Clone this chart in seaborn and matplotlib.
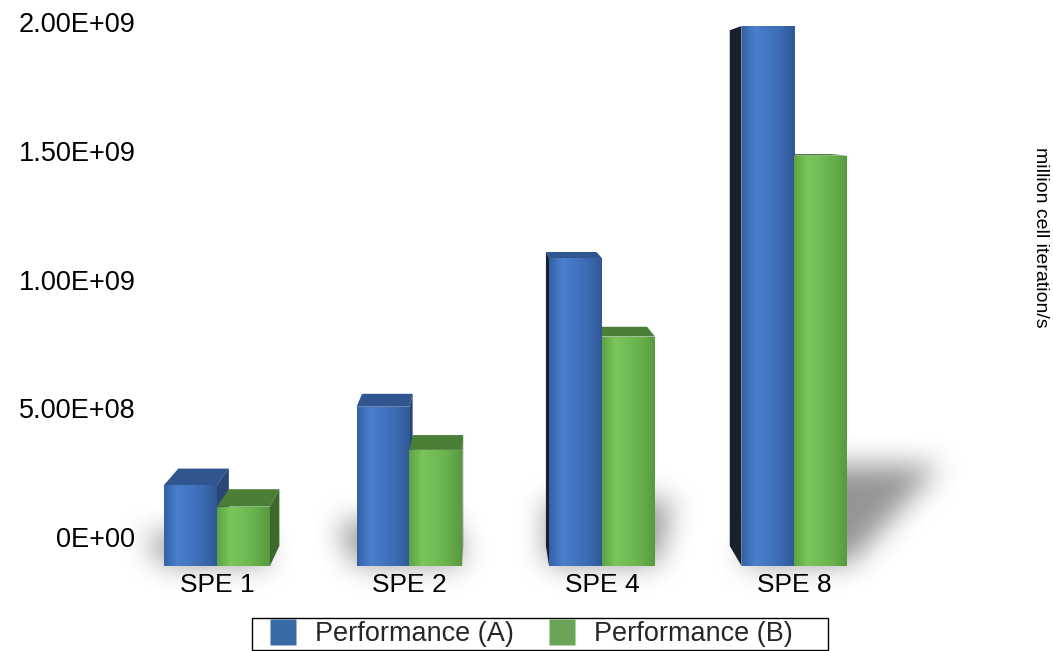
import numpy as np
import pandas as pd
import matplotlib
matplotlib.use("Agg")
import matplotlib.pyplot as plt
import seaborn as sns
from matplotlib.patches import Polygon, Rectangle
from matplotlib.lines import Line2D
from matplotlib.path import Path
from matplotlib.colors import LinearSegmentedColormap, to_rgba

# ---- data -------------------------------------------------------------
categories = ["SPE 1", "SPE 2", "SPE 4", "SPE 8"]
perf_a = [0.30e9, 0.59e9, 1.14e9, 2.00e9]
perf_b = [0.22e9, 0.43e9, 0.85e9, 1.52e9]
series = ["Performance (A)", "Performance (B)"]
ytick_values = [0, 5e8, 1e9, 1.5e9, 2e9]
ytick_labels = ["0E+00", "5.00E+08", "1.00E+09", "1.50E+09", "2.00E+09"]
axis_label = "million cell iteration/s"

# ---- style ------------------------------------------------------------
W, H = 1053, 651
sns.set_theme(style="white")
plt.rcParams["font.family"] = ["Liberation Sans", "DejaVu Sans"]

base_colors = ["#4273BE", "#6EB752"]
legend_colors = ["#3A6AA6", "#6AA457"]
front_grad = [
    ["#3461A6", "#4A7FCB", "#4376C1", "#3B69AF", "#2F5898"],
    ["#5CA244", "#7AC65C", "#71BD55", "#67AF4B", "#58993F"],
]
top_colors = ["#2F568F", "#4B7F37"]
right_colors = ["#2A4674", "#3D6A2C"]
left_colors = ["#18222F", "#24381D"]

fig = plt.figure(figsize=(W / 100, H / 100), dpi=100)
fig.patch.set_facecolor("white")

# plot box in pixels (left, right, bottom, top)
PL, PR, PB, PT = 145, 960, 566, 0
rect = [PL / W, (H - PB) / H, (PR - PL) / W, (PB - PT) / H]

ax_bg = fig.add_axes([0, 0, 1, 1], zorder=0)
ax_wall = fig.add_axes(rect, zorder=1)
ax = fig.add_axes(rect, zorder=2)
for a in (ax_wall, ax):
    a.set_facecolor("none")
    for s in a.spines.values():
        s.set_visible(False)

# front faces: 270 px per 1e9, wall: 257.5 px per 1e9 with zero lifted 29 px
front_scale = 270.0
wall_scale = 257.5
wall_lift = 29.0
front_ylim = (0, (PB - PT) / front_scale * 1e9)
wall_ylim = (-wall_lift / wall_scale * 1e9, (PB - PT - wall_lift) / wall_scale * 1e9)
xlim = (-0.374, 3.860)

df = pd.DataFrame({
    "category": categories * 2,
    "series": [series[0]] * len(categories) + [series[1]] * len(categories),
    "value": perf_a + perf_b,
})

sns.barplot(data=df, x="category", y="value", hue="series", palette=base_colors,
            width=0.55, gap=0, errorbar=None, saturation=1, legend=False,
            edgecolor="none", linewidth=0, ax=ax)
ax.set_xlim(*xlim)
ax.set_ylim(*front_ylim)

bars = [p for p in ax.patches if isinstance(p, Rectangle) and p.get_height() > 0]

def series_index(patch):
    fc = np.array(patch.get_facecolor()[:3])
    d = [np.abs(fc - np.array(to_rgba(c)[:3])).sum() for c in base_colors]
    return int(np.argmin(d))

# ---- depth faces ------------------------------------------------------
vp = np.array([480.0, H - 120.0])   # vanishing point in display coords
depth_k = 0.045
inv = ax.transData.inverted()
groups = {}

for p in bars:
    si = series_index(p)
    x0, w, h = p.get_x(), p.get_width(), p.get_height()
    fbl, fbr, ftr, ftl = ax.transData.transform(
        [[x0, 0], [x0 + w, 0], [x0 + w, h], [x0, h]])
    back = {k: c + depth_k * (vp - c) for k, c in
            (("bl", fbl), ("br", fbr), ("tr", ftr), ("tl", ftl))}
    faces = []
    if vp[1] > ftl[1]:
        faces.append(([ftl, ftr, back["tr"], back["tl"]], top_colors[si]))
    if vp[0] < fbl[0]:
        faces.append(([fbl, ftl, back["tl"], back["bl"]], left_colors[si]))
    if vp[0] > fbr[0]:
        faces.append(([fbr, ftr, back["tr"], back["br"]], right_colors[si]))
    for pts, col in faces:
        poly = Polygon(inv.transform(np.array(pts)), closed=True, facecolor=col,
                       edgecolor="none", zorder=2, clip_on=False)
        ax.add_patch(poly)
    p.set_zorder(3)
    cmap = LinearSegmentedColormap.from_list("g%d" % si, front_grad[si])
    im = ax.imshow(np.linspace(0, 1, 128)[None, :], cmap=cmap, aspect="auto",
                   extent=[x0, x0 + w, 0, h], zorder=3.1, interpolation="bilinear")
    im.set_clip_path(p)
    g = groups.setdefault(int(np.floor(x0 + w)), [])
    g.append((fbl[0], fbr[0], fbl[1], ftl[1] - fbl[1]))

ax.set_xlim(*xlim)
ax.set_ylim(*front_ylim)

# ---- soft floor shadows ----------------------------------------------
yy, xx = np.mgrid[0:H, 0:W]
pts = np.column_stack([xx.ravel() + 0.5, yy.ravel() + 0.5])
mask = np.zeros((H, W))
light_x, spread = 560.0, 6e-4
for key, members in groups.items():
    gx0 = min(m[0] for m in members)
    gx1 = max(m[1] for m in members)
    yb = H - members[0][2]
    hp = max(m[3] for m in members)
    lift = 20 + 0.15 * hp
    poly = [(gx0 - 2, yb - 2), (gx1 + 2, yb - 2),
            (gx1 + (gx1 - light_x) * spread * hp, yb - lift),
            (gx0 + (gx0 - light_x) * spread * hp, yb - lift)]
    mask = np.maximum(mask, Path(poly).contains_points(pts).reshape(H, W))

def box_blur(a, r, axis):
    a = np.moveaxis(a, axis, -1)
    pad = [(0, 0)] * (a.ndim - 1) + [(r + 1, r)]
    c = np.cumsum(np.pad(a, pad, mode="edge"), axis=-1)
    out = (c[..., 2 * r + 1:] - c[..., :-2 * r - 1]) / (2 * r + 1)
    return np.moveaxis(out, -1, axis)

shade = mask.astype(float)
for _ in range(3):
    shade = box_blur(shade, 13, 0)
    shade = box_blur(shade, 13, 1)
rgba = np.zeros((H, W, 4))
rgba[..., 3] = np.clip(shade * 0.42, 0, 1)
ax_bg.imshow(rgba, aspect="auto", extent=[0, W, H, 0], interpolation="bilinear")
ax_bg.set_xlim(0, W)
ax_bg.set_ylim(H, 0)
ax_bg.axis("off")

# ---- axes text ----------------------------------------------------------
ax.set_yticks([])
ax.set_xlabel("")
ax.set_ylabel("")
ax.tick_params(axis="x", length=0, pad=5, labelsize=19, colors="black")

ax_wall.set_xlim(*xlim)
ax_wall.set_ylim(*wall_ylim)
ax_wall.set_xticks([])
ax_wall.set_yticks(ytick_values, labels=ytick_labels)
ax_wall.tick_params(axis="y", length=0, pad=7, labelsize=19.5, colors="black")

fig.text(1040 / W, 1 - 237 / H, axis_label, rotation=-90, ha="center",
         va="center", fontsize=14, color="black")

# ---- legend -------------------------------------------------------------
handles = [Line2D([], [], linestyle="none", marker="s", markersize=19,
                  markerfacecolor=c, markeredgecolor="none") for c in legend_colors]
leg = fig.legend(handles, series, loc="center left",
                 bbox_to_anchor=(254 / W, 1 - 634 / H),
                 ncol=2, frameon=False, fontsize=19.5, handlelength=2.15,
                 handletextpad=0.1, columnspacing=0.7, borderpad=0.0,
                 borderaxespad=0)
frame = Rectangle((252 / W, 1 - 650 / H), (828 - 252) / W, 32 / H,
                  transform=fig.transFigure, facecolor="white",
                  edgecolor="black", linewidth=1.0, zorder=-1)
fig.add_artist(frame)
leg.set_zorder(5)

fig.savefig("out.png", dpi=100)
